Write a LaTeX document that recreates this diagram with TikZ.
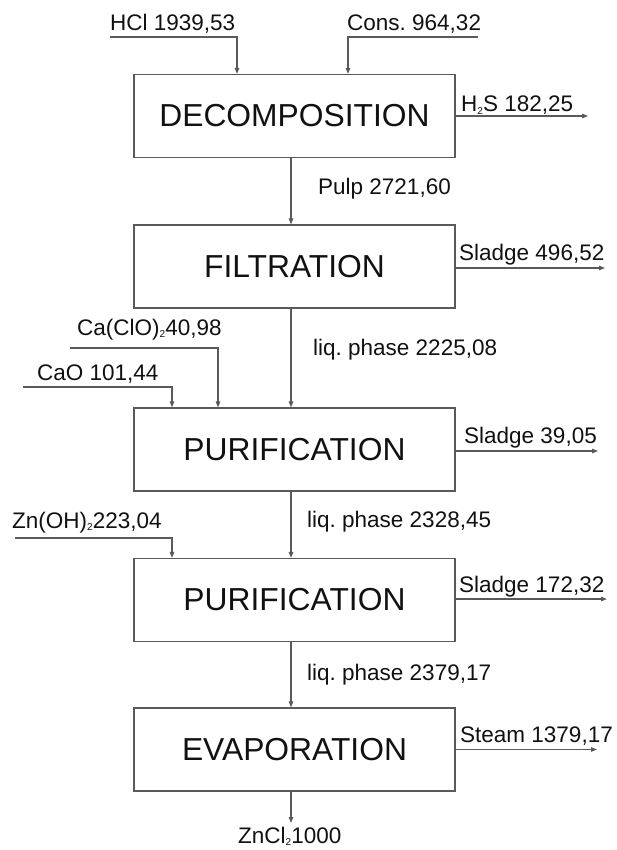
\documentclass[tikz,border=0pt]{standalone}
\usepackage{fontspec}
\setmainfont{Liberation Sans}
\usetikzlibrary{arrows.meta}
\frenchspacing
\definecolor{ln}{HTML}{5A5A5A}
\definecolor{tx}{HTML}{111111}
\newcommand{\subtwo}{\raisebox{-2.5pt}{\fontsize{10}{10}\selectfont 2}}
\tikzset{
  procbox/.style={draw=ln, line width=1.2pt, minimum width=321pt, minimum height=83pt, inner sep=0pt,
    text=tx, font=\fontsize{31.8}{36}\selectfont},
  flow/.style={draw=ln, line width=1.2pt, -{Triangle[length=6pt,width=4.5pt]}},
  lbl/.style={anchor=base west, inner sep=0pt, text=tx, font=\fontsize{22.5}{26}\selectfont\frenchspacing}
}
\begin{document}
\begin{tikzpicture}[x=1pt,y=-1pt]
\useasboundingbox (0,0) rectangle (616,850);
% boxes
\node[procbox] (b1) at (294.5,116) {DECOMPOSITION};
\node[procbox] (b2) at (294.5,266.5) {FILTRATION};
\node[procbox] (b3) at (294.5,449.5) {PURIFICATION};
\node[procbox] (b4) at (294.5,600) {PURIFICATION};
\node[procbox] (b5) at (294.5,749.5) {EVAPORATION};
% inputs
\coordinate (hclA) at (110,37); \coordinate (hclB) at (237,37);
\coordinate (consA) at (478,37); \coordinate (consB) at (348,37);
\coordinate (caclA) at (70,348); \coordinate (caclB) at (218,348);
\coordinate (caoA) at (23,387); \coordinate (caoB) at (172,387);
\coordinate (znA) at (15,538); \coordinate (znB) at (172,538);
\draw[flow] (hclA) -- (hclB) -- (hclB |- b1.north);
\draw[flow] (consA) -- (consB) -- (consB |- b1.north);
\draw[flow] (caclA) -- (caclB) -- (caclB |- b3.north);
\draw[flow] (caoA) -- (caoB) -- (caoB |- b3.north);
\draw[flow] (znA) -- (znB) -- (znB |- b4.north);
% main flow
\coordinate (mx) at (291,0);
\draw[flow] (mx |- b1.south) -- (mx |- b2.north);
\draw[flow] (mx |- b2.south) -- (mx |- b3.north);
\draw[flow] (mx |- b3.south) -- (mx |- b4.north);
\draw[flow] (mx |- b4.south) -- (mx |- b5.north);
\coordinate (zncl) at (291,823);
\draw[flow] (mx |- b5.south) -- (zncl);
% outputs
\coordinate (h2sE) at (588,0);
\coordinate (sl1E) at (605,0);
\coordinate (sl2E) at (598,0);
\coordinate (sl3E) at (607,0);
\coordinate (stE) at (597,0);
\draw[flow] (b1.east) -- (h2sE |- b1.east);
\draw[flow] ([yshift=-1.5pt]b2.east) -- ([yshift=-1.5pt]sl1E |- b2.east);
\draw[flow] ([yshift=-1.5pt]b3.east) -- ([yshift=-1.5pt]sl2E |- b3.east);
\draw[flow] ([yshift=1pt]b4.east) -- ([yshift=1pt]sl3E |- b4.east);
\draw[flow] (b5.east) -- (stE |- b5.east);
% labels
\node[lbl] (tHCl) at (110,31) {HCl 1939,53};
\node[lbl] (tCons) at (347,31) {Cons. 964,32};
\node[lbl] (tH2S) at (461,112) {H\subtwo S 182,25};
\node[lbl] (tPulp) at (318,195) {Pulp 2721,60};
\node[lbl] (tSl1) at (459,260) {Sladge 496,52};
\node[lbl] (tCaCl) at (77,335) {Ca(ClO)\subtwo 40,98};
\node[lbl] (tCaO) at (37,380) {CaO 101,44};
\node[lbl] (tLq1) at (313,355) {liq. phase 2225,08};
\node[lbl] (tSl2) at (464,443) {Sladge 39,05};
\node[lbl] (tLq2) at (307,527) {liq. phase 2328,45};
\node[lbl] (tZn) at (12,528) {Zn(OH)\subtwo 223,04};
\node[lbl] (tSl3) at (459,592) {Sladge 172,32};
\node[lbl] (tLq3) at (307,680) {liq. phase 2379,17};
\node[lbl] (tSt) at (460,742) {Steam 1379,17};
\node[lbl] (tZnCl) at (238,843) {ZnCl\subtwo 1000};
\end{tikzpicture}
\end{document}
